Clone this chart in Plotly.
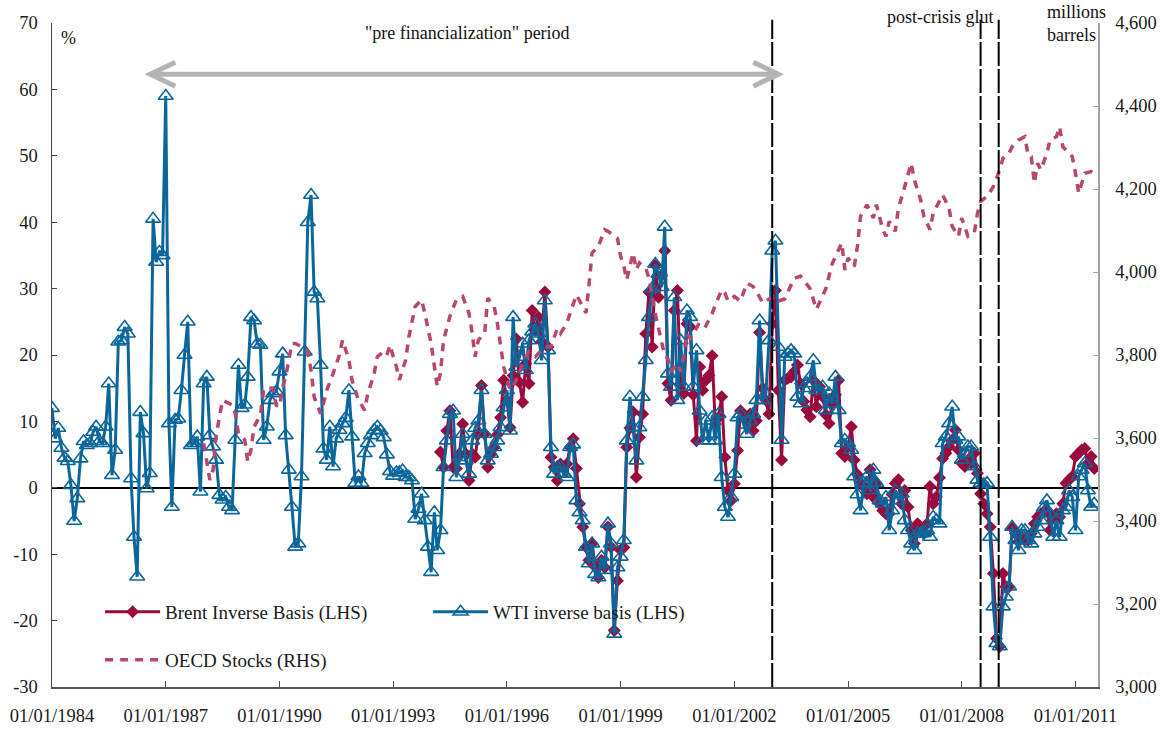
import plotly.graph_objects as go
import pandas as pd

# ---------------- data ----------------
wti_start = "1984-01-01"   # monthly series
wti_vals = [
    12, 7.4, 9, 6, 4.5, 4, 0.4, -5, -1.6, 4.4,
    7, 6.4, 6.7, 8.4, 9.2, 7, 6.7, 9.2, 15.7, 1.9,
    5.7, 22, 22.2, 24.2, 23.2, 1.4, -7.4, -13.4, 11.4, 8.2,
    -0.1, 2.2, 40.5, 34, 35.5, 35, 59, 9.7, -2.9, 10.2,
    10.4, 14.7, 20, 25, 6.4, 6.7, 7.7, -0.6, 15.7, 16.7,
    7.9, 6.2, 4.2, -1.1, -1.8, -1.4, -2.9, -3.4, 7.2, 18.5,
    12, 12.5, 16.7, 25.7, 25.2, 21.7, 21.5, 7.2, 9.2, 13.2,
    14.2, 14.5, 17.5, 20.2, 7.9, 2.7, -2.9, -8.9, -8.4, 1.7,
    20.5, 40, 44.1, 29.5, 28.5, 18.5, 5.9, 4.2, 9.2, 3.2,
    7.4, 8.7, 9.7, 10.5, 14.7, 7.7, 0.7, 1.7, 0.7, 5.2,
    6.7, 7.9, 8.7, 9.2, 8.6, 7.6, 5, 2.5, 1.8, 2.3,
    2.3, 2.6, 1.6, 1.6, 1.1, -4.7, -3.2, -0.9, -4.9, -8.9,
    -12.7, -3.7, -9.4, -6.4, 3.1, 7.1, 11.1, 11.6, 1.6, 4.6,
    8.1, 4.1, 2.1, 7.1, 9, 10.1, 14.7, 8.1, 4.1, 5.1,
    6.1, 7.1, 9.1, 12.1, 14.7, 8.6, 25.7, 18.2, 19.7, 21.7,
    17.7, 22.2, 23.5, 24.7, 23.2, 19.2, 28.2, 20.7, 6.1, 2.1,
    3.1, 3.1, 2.1, 1.6, 6.1, 6.5, -1.9, -3.7, -4.9, -8.9,
    -11.4, -8.4, -13, -13.5, -10.4, -12.4, -5.4, -8.4, -22, -12,
    -10.4, -7.9, 7.1, 13.7, 9.1, 4.1, 9.1, 13.7, 19.2, 25.7,
    30, 33.7, 32.2, 30.2, 39.3, 17.2, 15.2, 28.7, 13.2, 22.2,
    15.2, 26.7, 25.7, 15.2, 20.7, 11.6, 7.1, 10.1, 7.1, 10.6,
    7.1, 11.1, 1.6, -2.9, -4.4, -1.4, 2.1, 10.6, 11.1, 9.5,
    8.1, 10.1, 11.1, 13.2, 25.2, 13.2, 14.2, 22.2, 35.7, 37.2,
    21.2, 7.2, 19.7, 20.2, 20.7, 20.2, 13.7, 12.7, 15, 15.7,
    16.7, 19.2, 14.7, 14.7, 15.2, 11.7, 14.2, 12.7, 16.7, 11.7,
    6.7, 7.2, 6.7, 5.7, 1.7, -1, -3.4, 0.7, 1.7, -0.4,
    2.7, 0.7, -1.9, -2.4, -1.4, -6.4, -3.4, -0.4, -1.9, -0.9,
    -4.9, -6.4, -8.4, -9.4, -6.9, -6.9, -6.6, -6.4, -7.4, -4.4,
    -4.9, -5.4, 6.7, 7.7, 9.7, 12.2, 7.2, 7.7, 4.2, 5.2,
    6.2, 6.2, 3.2, 1.2, 0.7, 0.5, 0.7, -7.4, -17.9, -23.4,
    -23.9, -17.9, -16.4, -14.9, -5.9, -7.9, -9.4, -6.4, -6.4, -7.9,
    -8.4, -6.9, -5.9, -4.9, -3, -1.9, -3.9, -7.4, -4.9, -7.4,
    -3.4, -2.9, -0.4, -1.4, -6.4, 1.7, 2.7, 3.7, -0.4, -2.9, -2.4,
]

brent_start = "1994-04-01"  # monthly series
brent_vals = [
    5.4, 3.1, 8.6, 11.6, 3.1, 2.9, 5.1, 9.6, 5.1, 1.1,
    5.1, 4.6, 8.1, 15.4, 8.1, 3.1, 5.1, 6.1, 8, 10.6,
    16.2, 13.2, 9.1, 16.9, 22.4, 15.9, 12.9, 18.7, 15.7, 26.7,
    23.7, 25.7, 22, 29.5, 21.2, 4.6, 3.1, 1.1, 3.6, 3.1,
    3.6, 6.1, 7.4, 2.9, -2.4, -5.9, -8.9, -10.9, -8.4, -11.9,
    -13.5, -10.9, -12, -5.9, -8.9, -21.5, -14, -9.4, -9, 6.1,
    9, 11.4, 1.6, 7.6, 11.1, 23.2, 29.5, 21.2, 33.5, 28.7,
    32, 35.7, 15.7, 13.2, 26.7, 29.7, 15.7, 14.2, 24.7, 24.2,
    14, 7.1, 18.2, 14.7, 16.2, 16.9, 19.9, 9.6, 10.6, 13.7,
    4.6, -0.4, -1.9, 0.6, 5.6, 11.6, 10.6, 10.1, 11.1, 8.6,
    10.1, 23.4, 15, 13.2, 11.1, 24.7, 29.7, 14.7, 4.2, 16.2,
    16.5, 16.7, 17.5, 18.5, 15.7, 13, 11.7, 10.7, 16.2, 12.2,
    15.2, 13.7, 11, 9.7, 12.7, 14, 16.2, 5.2, 4.7, 6.2,
    9.2, 4.2, 2, 0.7, 0.2, -0.9, 2.7, -1.4, 0.7, -2.4,
    -3.4, -3.9, -3.9, -1, 0.7, 1.2, -2.4, -0.4, -2.9, -6.4,
    -8.4, -5.4, -5.9, -6.9, -5.4, 0.2, -2.4, -1.4, 1.5, 4.4,
    5.2, 6.2, 7.2, 8.7, 5.7, 3.7, 3.2, 4.2, 3.7, 5.2,
    2.2, -0.9, -2.4, -3.9, -5.9, -12.9, -22.7, -23.9, -12.9, -14.9,
    -14.9, -6.1, -6.9, -8.1, -7.4, -7.9, -7.9, -6.9, -5.4, -4.4,
    -3.9, -3.6, -3.4, -6.4, -4.4, -3.9, -4.4, -2.4, 0.7, 1.2,
    1.7, 4.7, 5.2, 5.7, 5.9, 3.7, 4.7, 2.9,
]

oecd_dates = [
    "1988-01", "1988-03", "1988-04", "1988-05", "1988-07", "1988-08", "1988-10", "1988-11", "1988-12",
    "1989-02", "1989-03", "1989-04", "1989-05", "1989-07", "1989-08", "1989-09", "1989-11", "1989-12",
    "1990-01", "1990-02", "1990-03", "1990-04", "1990-05", "1990-06", "1990-08", "1990-10", "1990-11", "1990-12",
    "1991-02", "1991-03", "1991-04", "1991-06", "1991-08", "1991-09", "1991-10", "1991-11", "1991-12",
    "1992-02", "1992-04", "1992-05", "1992-06", "1992-07", "1992-08", "1992-10", "1992-11", "1992-12",
    "1993-01", "1993-02", "1993-03", "1993-05", "1993-06", "1993-08", "1993-10", "1993-11",
    "1994-01", "1994-02", "1994-03", "1994-04", "1994-05", "1994-07", "1994-09", "1994-11",
    "1995-01", "1995-02", "1995-03", "1995-04", "1995-06", "1995-07", "1995-09", "1995-10", "1995-11", "1995-12",
    "1996-02", "1996-03", "1996-05", "1996-06", "1996-08", "1996-10",
    "1997-01", "1997-03", "1997-05", "1997-06", "1997-08", "1997-10", "1997-11",
    "1998-01", "1998-02", "1998-03", "1998-04", "1998-06", "1998-08", "1998-09", "1998-11", "1998-12",
    "1999-01", "1999-02", "1999-03", "1999-05", "1999-06", "1999-07", "1999-09", "1999-10", "1999-12",
    "2000-01", "2000-02", "2000-03", "2000-04", "2000-05", "2000-06", "2000-07", "2000-08", "2000-09",
    "2000-10", "2000-11", "2000-12",
    "2001-02", "2001-04", "2001-06", "2001-07", "2001-09", "2001-10", "2001-11",
    "2002-01", "2002-03", "2002-05", "2002-07", "2002-09", "2002-10", "2002-12",
    "2003-02", "2003-03", "2003-05", "2003-08", "2003-10",
    "2004-01", "2004-03", "2004-06", "2004-08", "2004-11", "2004-12",
    "2005-01", "2005-03", "2005-04", "2005-05", "2005-07", "2005-09", "2005-10", "2005-12",
    "2006-01", "2006-02", "2006-04", "2006-05", "2006-07", "2006-09", "2006-10", "2006-12",
    "2007-01", "2007-03", "2007-04", "2007-06", "2007-07", "2007-09", "2007-10", "2007-12",
    "2008-01", "2008-03", "2008-05", "2008-06", "2008-07", "2008-09", "2008-11",
    "2009-01", "2009-02", "2009-04", "2009-05", "2009-07", "2009-09", "2009-10", "2009-11", "2009-12",
    "2010-01", "2010-02", "2010-04", "2010-05", "2010-07", "2010-08", "2010-09", "2010-10", "2010-12",
    "2011-01", "2011-02", "2011-04", "2011-06", "2011-07",
]
oecd_vals = [
    3587, 3499, 3523, 3607, 3691, 3687, 3680, 3659, 3611,
    3595, 3543, 3571, 3627, 3655, 3715, 3723, 3719, 3679,
    3675, 3723, 3747, 3788, 3828, 3828, 3820, 3808, 3763, 3699,
    3659, 3683, 3715, 3755, 3800, 3836, 3812, 3788, 3739,
    3691, 3667, 3707, 3731, 3755, 3796, 3808, 3800, 3824,
    3796, 3771, 3740, 3788, 3844, 3917, 3933, 3901,
    3828, 3780, 3724, 3756, 3836, 3893, 3933, 3941,
    3901, 3852, 3796, 3836, 3852, 3937, 3917, 3877, 3828, 3772,
    3716, 3724, 3756, 3780, 3808, 3796,
    3820, 3820, 3864, 3852, 3877, 3925, 3945,
    3917, 3901, 3965, 4046, 4062, 4102, 4098, 4086, 4082,
    4038, 4014, 3981, 4046, 4006, 4022, 4010, 3985, 3900,
    3860, 3830, 3800, 3790, 3760, 3770, 3780, 3760, 3800,
    3852, 3840, 3850,
    3880, 3870, 3900, 3920, 3957, 3950, 3930,
    3941, 3930, 3973, 3965, 3940, 3925, 3935,
    3941, 3930, 3935, 3985, 3990,
    3960, 3910, 3960, 4020, 4070, 4005,
    4034, 4013, 4062, 4134, 4162, 4130, 4162, 4102,
    4086, 4122, 4098, 4154, 4206, 4262, 4222, 4174,
    4134, 4102, 4142, 4174, 4186, 4154, 4110, 4086,
    4130, 4086, 4094, 4142, 4170, 4182, 4206,
    4246, 4274, 4286, 4302, 4318, 4326, 4282, 4278, 4214,
    4262, 4246, 4286, 4318, 4326, 4350, 4302, 4294, 4278,
    4238, 4190, 4238, 4242, 4238,
]

lhs_ticks = [-30, -20, -10, 0, 10, 20, 30, 40, 50, 60, 70]
event_dates = ["2003-01-01", "2008-07-01", "2008-12-22"]
arrow_span = ["1986-08-05", "2003-03-01"]
arrow_level = 62.3

# ---------------- figure ----------------
FONT = '"Liberation Serif", "Times New Roman", Times, serif'
C_WTI = "#0b679b"
C_BRENT = "#9a0a3d"
C_OECD = "#b9466f"
TICK_SIZE = 18.5
LEG_SIZE = 19
ANN_SIZE = 18

wti_x = pd.date_range(wti_start, periods=len(wti_vals), freq="MS")
brent_x = pd.date_range(brent_start, periods=len(brent_vals), freq="MS")

fig = go.Figure()
fig.add_trace(go.Scatter(
    x=brent_x, y=brent_vals, name="Brent Inverse Basis (LHS)", mode="lines+markers",
    line=dict(color=C_BRENT, width=3), marker=dict(symbol="diamond", size=10, color=C_BRENT),
    legend="legend",
))
fig.add_trace(go.Scatter(
    x=wti_x, y=wti_vals, name="WTI inverse basis (LHS)", mode="lines+markers",
    line=dict(color=C_WTI, width=3),
    marker=dict(symbol="triangle-up-open", size=13, color=C_WTI, line=dict(width=1.6, color=C_WTI)),
    legend="legend",
))
fig.add_trace(go.Scatter(
    x=pd.to_datetime(oecd_dates), y=oecd_vals, name="OECD Stocks (RHS)", mode="lines",
    line=dict(color=C_OECD, width=3.5, dash="8px,7px"), yaxis="y2",
    legend="legend2",
))

shapes = []
for d in event_dates:
    shapes.append(dict(type="line", xref="x", yref="paper", x0=d, x1=d, y0=0, y1=1.005,
                       line=dict(color="black", width=2, dash="24px,3px"), layer="above"))
GREY = "#b4b4b4"
shapes.append(dict(type="line", xref="x", yref="y", x0=arrow_span[0], x1=arrow_span[1],
                   y0=arrow_level, y1=arrow_level, line=dict(color=GREY, width=5)))
shapes.append(dict(type="path", xref="x", yref="y", xsizemode="pixel", ysizemode="pixel",
                   xanchor=arrow_span[0], yanchor=arrow_level,
                   path="M 25 12 L 0 0 L 25 -12", line=dict(color=GREY, width=5)))
shapes.append(dict(type="path", xref="x", yref="y", xsizemode="pixel", ysizemode="pixel",
                   xanchor=arrow_span[1], yanchor=arrow_level,
                   path="M -25 12 L 0 0 L -25 -12", line=dict(color=GREY, width=5)))

ann_font = dict(family=FONT, size=ANN_SIZE, color="#111")
annotations = [
    dict(text="%", xref="paper", yref="paper", x=0.0153, y=0.977, showarrow=False,
         font=ann_font, xanchor="center", yanchor="middle"),
    dict(text='"pre financialization" period', xref="paper", yref="paper", x=0.3977, y=0.985,
         showarrow=False, font=ann_font, xanchor="center", yanchor="middle"),
    dict(text="post-crisis glut", xref="paper", yref="paper", x=0.8497, y=1.009,
         showarrow=False, font=ann_font, xanchor="center", yanchor="middle"),
    dict(text="millions<br>barrels", xref="paper", yref="paper", x=0.9495, y=1.0,
         showarrow=False, font=ann_font, xanchor="left", yanchor="middle", align="left"),
]

fig.update_layout(
    width=1164, height=729,
    margin=dict(l=52, r=66, t=23, b=42, autoexpand=False),
    paper_bgcolor="white", plot_bgcolor="white",
    font=dict(family=FONT, size=TICK_SIZE, color="#1a1a1a"),
    showlegend=True,
    hovermode=False,
    xaxis=dict(
        type="date", range=["1984-01-01", "2011-08-06"],
        tick0="1984-01-01", dtick="M36", tickformat="%d/%m/%Y",
        ticks="inside", ticklen=6, tickcolor="#555", tickwidth=1,
        showline=True, linecolor="#555", linewidth=1.5, showgrid=False, zeroline=False,
        ticklabelstandoff=11, automargin=False,
    ),
    yaxis=dict(
        range=[-30, 70], tickmode="array", tickvals=lhs_ticks,
        ticktext=[str(v) for v in lhs_ticks],
        ticks="inside", ticklen=5, tickcolor="#444",
        showline=True, linecolor="#444", linewidth=1.5, showgrid=False,
        zeroline=True, zerolinecolor="black", zerolinewidth=1.5,
        ticklabelstandoff=9, automargin=False,
    ),
    yaxis2=dict(
        overlaying="y", side="right", range=[3000, 4600], dtick=200, tickformat=",d",
        ticks="inside", ticklen=5, tickcolor="#a6a6a6",
        showline=True, linecolor="#a6a6a6", linewidth=1.5, showgrid=False, zeroline=False,
        ticklabelstandoff=12, automargin=False,
    ),
    legend=dict(orientation="h", x=0.046, y=0.113, xanchor="left", yanchor="middle",
                entrywidth=258, entrywidthmode="pixels", itemwidth=55,
                bgcolor="rgba(0,0,0,0)", font=dict(family=FONT, size=LEG_SIZE, color="#1a1a1a")),
    legend2=dict(orientation="h", x=0.046, y=0.041, xanchor="left", yanchor="middle",
                 itemwidth=55, bgcolor="rgba(0,0,0,0)",
                 font=dict(family=FONT, size=LEG_SIZE, color="#1a1a1a")),
    shapes=shapes,
    annotations=annotations,
)

fig.write_html(
    "out.html",
    config={"displayModeBar": False, "staticPlot": True},
    post_script="document.body.style.margin='0';document.body.style.overflow='hidden';",
)
